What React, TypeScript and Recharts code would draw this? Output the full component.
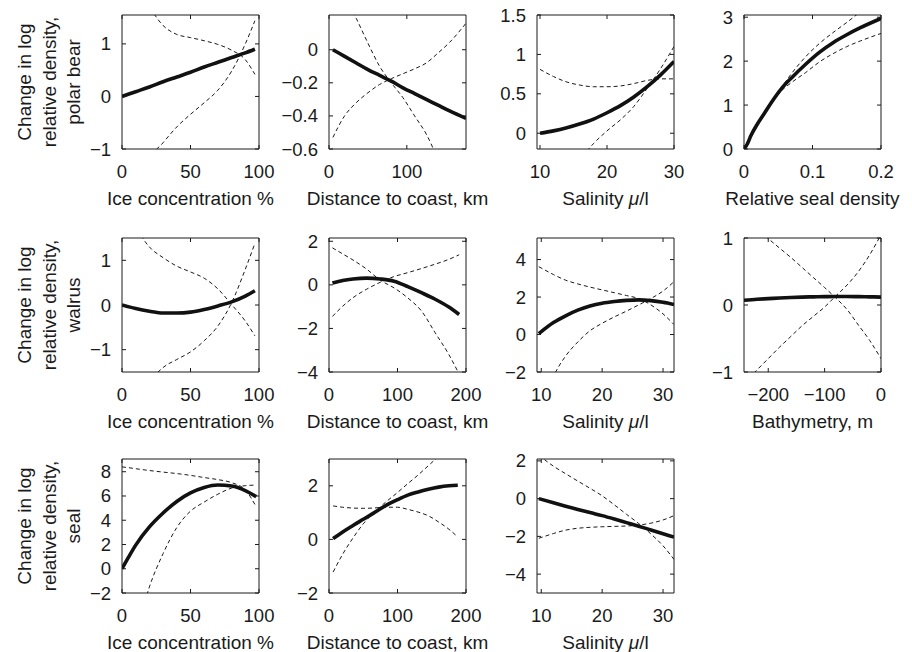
import React from 'react';
import { LineChart, Line, XAxis, YAxis } from 'recharts';

const FONT = '"Liberation Sans", Arial, Helvetica, sans-serif';
const INK = '#1a1a1a';

// polar bear
const bearIceX = [0, 10, 20, 30, 40, 50, 60, 70, 80, 90, 97];
const bearIceFit = [0, 0.09, 0.18, 0.28, 0.37, 0.46, 0.56, 0.65, 0.74, 0.83, 0.9];
const bearIceHi = [2.6, 2.1, 1.7, 1.35, 1.18, 1.12, 1.06, 0.99, 0.88, 0.7, 0.42];
const bearIceLo = [-2.6, -2.0, -1.2, -0.88, -0.58, -0.34, -0.12, 0.12, 0.48, 1.0, 1.44];

const bearDistX = [5, 20, 35, 50, 65, 80, 95, 110, 125, 140, 155, 176];
const bearDistFit = [0, -0.04, -0.08, -0.12, -0.155, -0.19, -0.23, -0.265, -0.3, -0.335, -0.37, -0.415];
const bearDistHi = [0.5, 0.33, 0.19, 0.04, -0.1, -0.2, -0.29, -0.4, -0.51, -0.66, -0.8, -1.0];
const bearDistLo = [-0.53, -0.4, -0.32, -0.26, -0.21, -0.175, -0.145, -0.115, -0.08, -0.02, 0.045, 0.16];

const bearSalX = [10, 12, 14, 16, 18, 20, 22, 24, 26, 28, 30];
const bearSalFit = [0, 0.03, 0.07, 0.12, 0.18, 0.26, 0.35, 0.46, 0.59, 0.74, 0.91];
const bearSalHi = [0.81, 0.72, 0.65, 0.61, 0.59, 0.59, 0.6, 0.63, 0.67, 0.69, 0.69];
const bearSalLo = [-1.0, -0.78, -0.56, -0.33, -0.13, 0.03, 0.17, 0.34, 0.57, 0.82, 1.1];

const bearSealX = [0, 0.005, 0.01, 0.02, 0.03, 0.04, 0.055, 0.07, 0.09, 0.11, 0.13, 0.15, 0.17, 0.2];
const bearSealFit = [0, 0.12, 0.3, 0.58, 0.82, 1.06, 1.38, 1.63, 1.93, 2.2, 2.42, 2.6, 2.76, 2.97];
const bearSealHi = [0, 0.13, 0.31, 0.6, 0.85, 1.09, 1.41, 1.73, 2.1, 2.4, 2.65, 2.88, 3.12, 3.4];
const bearSealLo = [0, 0.11, 0.28, 0.56, 0.8, 1.03, 1.33, 1.52, 1.74, 1.98, 2.17, 2.33, 2.46, 2.63];

// walrus
const walrusIceX = [0, 10, 20, 30, 40, 50, 60, 70, 80, 90, 97];
const walrusIceFit = [0, -0.08, -0.14, -0.18, -0.18, -0.16, -0.1, -0.02, 0.07, 0.2, 0.32];
const walrusIceHi = [2.4, 1.75, 1.3, 1.06, 0.87, 0.74, 0.6, 0.36, 0.01, -0.36, -0.69];
const walrusIceLo = [-3.2, -2.5, -1.75, -1.4, -1.22, -1.05, -0.8, -0.47, 0.05, 0.8, 1.38];

const walrusDistX = [5, 20, 35, 55, 75, 95, 115, 135, 155, 175, 190];
const walrusDistFit = [0.08, 0.2, 0.27, 0.31, 0.27, 0.17, -0.08, -0.36, -0.66, -1.02, -1.36];
const walrusDistHi = [1.7, 1.42, 1.14, 0.72, 0.21, -0.14, -0.6, -1.2, -2.2, -3.2, -4.1];
const walrusDistLo = [-1.45, -0.98, -0.59, -0.2, 0.12, 0.38, 0.56, 0.75, 0.95, 1.17, 1.38];

const walrusSalX = [9.6, 12, 14, 16, 18, 20, 22, 24, 26, 28, 30, 31.8];
const walrusSalFit = [0.05, 0.64, 1.0, 1.3, 1.52, 1.67, 1.76, 1.82, 1.85, 1.81, 1.72, 1.6];
const walrusSalHi = [3.62, 3.2, 2.9, 2.7, 2.53, 2.38, 2.23, 2.08, 1.92, 1.58, 1.1, 0.53];
const walrusSalLo = [-4.5, -2.25, -1.15, -0.4, 0.2, 0.6, 0.94, 1.25, 1.58, 1.92, 2.32, 2.82];

const walrusBathX = [-243, -220, -200, -180, -160, -140, -120, -100, -82, -60, -40, -20, 0];
const walrusBathFit = [0.07, 0.085, 0.095, 0.105, 0.112, 0.118, 0.122, 0.125, 0.127, 0.127, 0.125, 0.122, 0.118];
const walrusBathHi = [1.3, 1.13, 0.99, 0.85, 0.71, 0.56, 0.41, 0.26, 0.12, -0.07, -0.3, -0.53, -0.8];
const walrusBathLo = [-1.17, -0.97, -0.8, -0.63, -0.47, -0.31, -0.17, -0.03, 0.12, 0.3, 0.5, 0.75, 1.05];

// seal
const sealIceX = [0, 5, 10, 20, 30, 40, 50, 60, 70, 80, 90, 98];
const sealIceFit = [0, 1.0, 1.95, 3.45, 4.6, 5.55, 6.25, 6.7, 6.9, 6.82, 6.45, 5.95];
const sealIceHi = [8.4, 8.33, 8.25, 8.1, 7.97, 7.85, 7.7, 7.52, 7.35, 7.1, 6.5, 5.1];
const sealIceLo = [-10, -7.5, -5.5, -1.5, 1.25, 3.4, 4.75, 5.5, 6.15, 6.65, 6.85, 6.9];

const sealDistX = [6, 20, 35, 50, 65, 80, 100, 115, 130, 145, 160, 175, 188];
const sealDistFit = [0.03, 0.28, 0.52, 0.75, 0.98, 1.22, 1.48, 1.65, 1.77, 1.87, 1.95, 2.0, 2.02];
const sealDistHi = [-1.22, -0.55, 0.05, 0.58, 0.98, 1.33, 1.75, 2.08, 2.4, 2.75, 3.1, 3.45, 3.75];
const sealDistLo = [1.25, 1.2, 1.17, 1.16, 1.17, 1.2, 1.2, 1.12, 1.02, 0.88, 0.65, 0.38, 0.09];

const sealSalX = [9.6, 12, 14, 16, 18, 20, 22, 24, 26, 28, 30, 31.8];
const sealSalFit = [0, -0.22, -0.4, -0.57, -0.74, -0.9, -1.08, -1.27, -1.46, -1.66, -1.86, -2.04];
const sealSalHi = [2.3, 1.72, 1.32, 0.93, 0.55, 0.15, -0.33, -0.83, -1.32, -1.87, -2.5, -3.22];
const sealSalLo = [-2.1, -1.85, -1.67, -1.57, -1.52, -1.49, -1.47, -1.45, -1.4, -1.3, -1.13, -0.9];

const rowNames = ['polar bear', 'walrus', 'seal'];

// layout
const BOX_W = 137;
const BOX_H = 134;
const COL_LEFT = [122, 329, 537, 744];
const ROW_TOP = [15, 238, 459];
const M = { top: 11, right: 15, bottom: 65, left: 55 };

const fmt = (v: number) => (v < 0 ? '\u2212' + String(-v) : String(v));

type PanelDef = {
  row: number;
  col: number;
  x: number[];
  fit: number[];
  hi: number[];
  lo: number[];
  xDomain: [number, number];
  xTicks: number[];
  yDomain: [number, number];
  yTicks: number[];
  xLabel: string;
};

const ICE = 'Ice concentration %';
const DIST = 'Distance to coast, km';
const SAL = 'SAL';

const panels: PanelDef[] = [
  { row: 0, col: 0, x: bearIceX, fit: bearIceFit, hi: bearIceHi, lo: bearIceLo, xDomain: [0, 100], xTicks: [0, 50, 100], yDomain: [-1, 1.55], yTicks: [-1, 0, 1], xLabel: ICE },
  { row: 0, col: 1, x: bearDistX, fit: bearDistFit, hi: bearDistHi, lo: bearDistLo, xDomain: [0, 176], xTicks: [0, 100], yDomain: [-0.6, 0.21], yTicks: [-0.6, -0.4, -0.2, 0], xLabel: DIST },
  { row: 0, col: 2, x: bearSalX, fit: bearSalFit, hi: bearSalHi, lo: bearSalLo, xDomain: [9.55, 30], xTicks: [10, 20, 30], yDomain: [-0.2, 1.5], yTicks: [0, 0.5, 1, 1.5], xLabel: SAL },
  { row: 0, col: 3, x: bearSealX, fit: bearSealFit, hi: bearSealHi, lo: bearSealLo, xDomain: [0, 0.2], xTicks: [0, 0.1, 0.2], yDomain: [0, 3.05], yTicks: [0, 1, 2, 3], xLabel: 'Relative seal density' },
  { row: 1, col: 0, x: walrusIceX, fit: walrusIceFit, hi: walrusIceHi, lo: walrusIceLo, xDomain: [0, 100], xTicks: [0, 50, 100], yDomain: [-1.5, 1.5], yTicks: [-1, 0, 1], xLabel: ICE },
  { row: 1, col: 1, x: walrusDistX, fit: walrusDistFit, hi: walrusDistHi, lo: walrusDistLo, xDomain: [0, 200], xTicks: [0, 100, 200], yDomain: [-4, 2.15], yTicks: [-4, -2, 0, 2], xLabel: DIST },
  { row: 1, col: 2, x: walrusSalX, fit: walrusSalFit, hi: walrusSalHi, lo: walrusSalLo, xDomain: [9.3, 31.8], xTicks: [10, 20, 30], yDomain: [-2, 5.15], yTicks: [-2, 0, 2, 4], xLabel: SAL },
  { row: 1, col: 3, x: walrusBathX, fit: walrusBathFit, hi: walrusBathHi, lo: walrusBathLo, xDomain: [-243, 0], xTicks: [-200, -100, 0], yDomain: [-1, 1], yTicks: [-1, 0, 1], xLabel: 'Bathymetry, m' },
  { row: 2, col: 0, x: sealIceX, fit: sealIceFit, hi: sealIceHi, lo: sealIceLo, xDomain: [0, 100], xTicks: [0, 50, 100], yDomain: [-2, 9.05], yTicks: [-2, 0, 2, 4, 6, 8], xLabel: ICE },
  { row: 2, col: 1, x: sealDistX, fit: sealDistFit, hi: sealDistHi, lo: sealDistLo, xDomain: [0, 200], xTicks: [0, 100, 200], yDomain: [-2, 3], yTicks: [-2, 0, 2], xLabel: DIST },
  { row: 2, col: 2, x: sealSalX, fit: sealSalFit, hi: sealSalHi, lo: sealSalLo, xDomain: [9.3, 31.8], xTicks: [10, 20, 30], yDomain: [-5, 2.1], yTicks: [-4, -2, 0, 2], xLabel: SAL },
];

const tickText = { fontSize: 18.5, fontFamily: FONT, fill: INK };

const BottomTick = (props: any) => {
  const { x, y, payload } = props;
  return (
    <g>
      <line x1={x} y1={y} x2={x} y2={y - 4} stroke={INK} />
      <text x={x} y={y + 29} textAnchor="middle" {...tickText}>{fmt(payload.value)}</text>
    </g>
  );
};

const TopTick = (props: any) => {
  const { x, y } = props;
  return <line x1={x} y1={y} x2={x} y2={y + 4} stroke={INK} />;
};

const LeftTick = (props: any) => {
  const { x, y, payload } = props;
  return (
    <g>
      <line x1={x} y1={y} x2={x + 4} y2={y} stroke={INK} />
      <text x={x - 11} y={y + 6.5} textAnchor="end" {...tickText}>{fmt(payload.value)}</text>
    </g>
  );
};

const RightTick = (props: any) => {
  const { x, y } = props;
  return <line x1={x} y1={y} x2={x - 4} y2={y} stroke={INK} />;
};

const Panel = ({ p }: { p: PanelDef }) => {
  const data = p.x.map((x, i) => ({ x, fit: p.fit[i], hi: p.hi[i], lo: p.lo[i] }));
  const left = COL_LEFT[p.col] - M.left - 1;
  const top = ROW_TOP[p.row] - M.top - 1;
  const axisLine = { stroke: INK, strokeWidth: 1 };
  return (
    <div style={{ position: 'absolute', left, top }}>
      <LineChart width={M.left + 2 + BOX_W + M.right} height={M.top + 2 + BOX_H + M.bottom} data={data} margin={M}>
        <XAxis dataKey="x" type="number" domain={p.xDomain} ticks={p.xTicks} allowDataOverflow interval={0}
          height={1} tickSize={0} tickMargin={0} tickLine={false} axisLine={axisLine} tick={(t: any) => <BottomTick {...t} />} />
        <XAxis xAxisId="top" orientation="top" dataKey="x" type="number" domain={p.xDomain} ticks={p.xTicks} allowDataOverflow interval={0}
          height={1} tickSize={0} tickMargin={0} tickLine={false} axisLine={axisLine} tick={(t: any) => <TopTick {...t} />} />
        <YAxis type="number" domain={p.yDomain} ticks={p.yTicks} allowDataOverflow interval={0}
          width={1} tickSize={0} tickMargin={0} tickLine={false} axisLine={axisLine} tick={(t: any) => <LeftTick {...t} />} />
        <YAxis yAxisId="right" orientation="right" type="number" domain={p.yDomain} ticks={p.yTicks} allowDataOverflow interval={0}
          width={1} tickSize={0} tickMargin={0} tickLine={false} axisLine={axisLine} tick={(t: any) => <RightTick {...t} />} />
        <Line type="monotone" dataKey="hi" stroke={INK} strokeWidth={1} strokeDasharray="4 3" dot={false} activeDot={false} isAnimationActive={false} />
        <Line type="monotone" dataKey="lo" stroke={INK} strokeWidth={1} strokeDasharray="4 3" dot={false} activeDot={false} isAnimationActive={false} />
        <Line type="monotone" dataKey="fit" stroke="#111" strokeWidth={3.6} dot={false} activeDot={false} isAnimationActive={false} />
      </LineChart>
    </div>
  );
};

const titleText = { fontSize: 19, fontFamily: FONT, fill: INK };

const Titles = () => (
  <svg width={912} height={652} style={{ position: 'absolute', left: 0, top: 0, pointerEvents: 'none' }}>
    {ROW_TOP.map((t, r) => {
      const cy = t + BOX_H / 2;
      const lines = ['Change in log', 'relative density,', rowNames[r]];
      const xs = [31, 55.5, 80];
      return lines.map((s, i) => (
        <text key={r + '-' + i} x={xs[i]} y={cy} textAnchor="middle" transform={`rotate(-90 ${xs[i]} ${cy})`} {...titleText}>{s}</text>
      ));
    })}
    {panels.map((p, i) => {
      const cx = COL_LEFT[p.col] + BOX_W / 2;
      const y = ROW_TOP[p.row] + BOX_H + 56;
      return (
        <text key={'x' + i} x={cx} y={y} textAnchor="middle" {...titleText}>
          {p.xLabel === SAL ? (
            <>
              Salinity <tspan fontStyle="italic">μ</tspan>/l
            </>
          ) : (
            p.xLabel
          )}
        </text>
      );
    })}
  </svg>
);

export default function App() {
  return (
    <div style={{ position: 'absolute', left: 0, top: 0, width: 912, height: 652, background: '#fff' }}>
      {panels.map((p, i) => (
        <Panel key={i} p={p} />
      ))}
      <Titles />
    </div>
  );
}
